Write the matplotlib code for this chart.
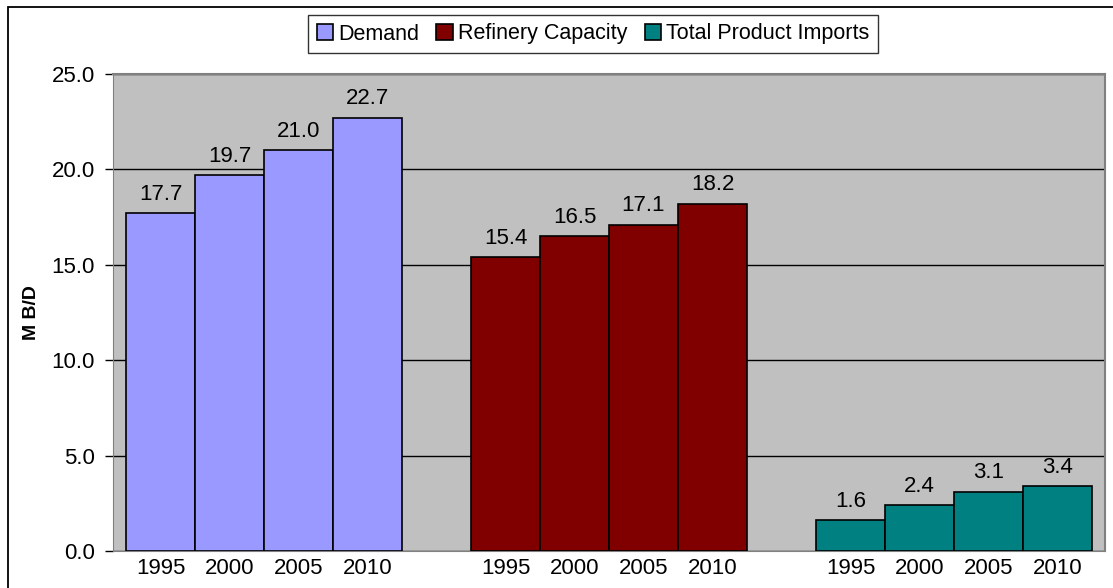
import numpy as np
import matplotlib
matplotlib.use("Agg")
import matplotlib.pyplot as plt
from matplotlib.patches import Rectangle

years = ["1995", "2000", "2005", "2010"]
series_names = ["Demand", "Refinery Capacity", "Total Product Imports"]
demand = [17.7, 19.7, 21.0, 22.7]
refinery = [15.4, 16.5, 17.1, 18.2]
imports = [1.6, 2.4, 3.1, 3.4]
colors = ["#9999FF", "#800000", "#008080"]
yticks = [0, 5, 10, 15, 20, 25]

plt.rcParams['font.family'] = ['Liberation Sans', 'DejaVu Sans']
FS = 16

fig = plt.figure(figsize=(11.13, 5.88), dpi=100)
W, H = 1113, 588
ax = fig.add_axes([113 / W, 1 - 551 / H, (1105 - 113) / W, (551 - 74) / H])
ax.set_facecolor("#C0C0C0")

# outer chart border
fig.patches.append(Rectangle((8 / W, -0.05), 1.1, 1.05 - 7 / H, transform=fig.transFigure,
                             fill=False, edgecolor="black", linewidth=1.3, zorder=0))

group_gap = 5
all_pos, all_labels = [], []
handles = []
for g, (vals, col, name) in enumerate(zip([demand, refinery, imports], colors, series_names)):
    pos = g * group_gap + np.arange(len(vals)) + 0.5
    b = ax.bar(pos, vals, width=1.0, color=col, edgecolor="black", linewidth=1.2, zorder=3, label=name)
    handles.append(b)
    for p, v in zip(pos, vals):
        ax.text(p, v + 0.45, f"{v:.1f}", ha="center", va="bottom", fontsize=FS, zorder=4)
    all_pos.extend(pos)
    all_labels.extend(years)

ax.set_xlim(-0.19, 14.19)
ax.set_ylim(0, 25)
ax.set_yticks(yticks)
ax.set_yticklabels([f"{t:.1f}" for t in yticks], fontsize=FS)
ax.set_xticks(all_pos)
ax.set_xticklabels(all_labels, fontsize=FS)
ax.tick_params(axis="x", length=0, pad=5)
ax.tick_params(axis="y", length=6, width=1, pad=7)
ax.yaxis.grid(True, color="black", linewidth=1.0, zorder=1)
ax.set_axisbelow(True)
for s in ["top", "right"]:
    ax.spines[s].set_color("#808080")
    ax.spines[s].set_linewidth(1.5)
ax.spines["left"].set_color("#808080")
ax.spines["bottom"].set_color("#808080")
ax.set_ylabel("M B/D", fontsize=14, fontweight="bold", labelpad=8)

leg = fig.legend(handles=handles, labels=series_names, loc="center",
                 bbox_to_anchor=(593 / W, 1 - 34 / H), ncol=3, fontsize=15.5,
                 frameon=True, fancybox=False, edgecolor="black", handlelength=0.75,
                 handleheight=0.75, handletextpad=0.25, columnspacing=0.8,
                 borderpad=0.4, borderaxespad=0)
leg.get_frame().set_linewidth(1.0)

fig.savefig("out.png", dpi=100)
